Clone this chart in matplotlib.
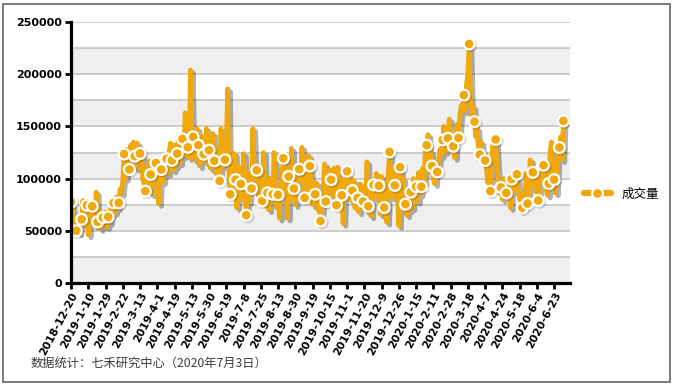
import numpy as np
import matplotlib
matplotlib.use("Agg")
import matplotlib.pyplot as plt
import matplotlib.patheffects as pe
from matplotlib.patches import Rectangle
from matplotlib.lines import Line2D

# ============================
# DATA (daily volume, trading-day index)
# ============================

volume = [
    77700, 72000, 63000, 57000, 50000, 55000, 48000, 60000,
    61000, 79000, 56000, 68000, 74500, 46000, 65000, 76000,
    73500, 62000, 55000, 87000, 58500, 70000, 52000, 60000,
    62700, 55000, 68000, 54000, 63300, 58000, 72000, 66000,
    76700, 68000, 82000, 72000, 76700, 90000, 86000, 98000,
    123500, 100000, 128000, 115000, 108700, 132000, 118000, 135000,
    121500, 110000, 134000, 118000, 124000, 128000, 100000, 95000,
    88000, 110000, 96000, 117000, 104000, 85000, 116000, 100000,
    115000, 98000, 76000, 105000, 108700, 97000, 120000, 104000,
    119000, 105000, 126000, 134000, 117500, 108000, 132000, 112000,
    124000, 137000, 115000, 126000, 138000, 122000, 163000, 140000,
    130000, 120000, 204000, 145000, 140000, 118000, 128000, 148000,
    132000, 112000, 141000, 125000, 123400, 116000, 148000, 126000,
    127200, 110000, 132000, 143000, 117000, 105000, 128000, 100000,
    97800, 148000, 112000, 125000, 118000, 128000, 186000, 105000,
    85000, 110000, 96000, 124000, 99000, 72000, 112000, 84000,
    95000, 80000, 124000, 100000, 65000, 92000, 78000, 105000,
    90500, 148000, 112000, 100000, 108000, 84000, 95000, 80000,
    78600, 125000, 98000, 74000, 86300, 70000, 100000, 78000,
    85000, 125000, 95000, 72000, 84500, 62000, 94000, 105000,
    119500, 96000, 110000, 62000, 102000, 80000, 129000, 98000,
    90500, 75000, 110000, 96000, 109000, 100000, 130000, 95000,
    81500, 98000, 88000, 122000, 112000, 92000, 75000, 90000,
    85000, 96000, 70000, 80000, 59400, 72000, 85000, 114000,
    78000, 95000, 82000, 108000, 99000, 85000, 110000, 90000,
    74500, 111000, 86000, 100000, 84000, 57000, 92000, 98000,
    107000, 95000, 80000, 100000, 88500, 98000, 72000, 90000,
    81500, 68000, 95000, 76000, 78000, 92000, 70000, 116000,
    73500, 88000, 64000, 96000, 94000, 82000, 105000, 90000,
    93200, 66000, 102000, 85000, 72300, 90000, 58000, 104000,
    125600, 96000, 82000, 110000, 93500, 104000, 82000, 55000,
    111000, 90000, 100000, 84000, 75500, 65000, 88000, 70000,
    87000, 72000, 100000, 82000, 92300, 78000, 106000, 85000,
    92300, 110000, 96000, 128000, 132000, 142000, 118000, 126000,
    112000, 100000, 95000, 115000, 106400, 118000, 128000, 122000,
    137000, 150000, 126000, 145000, 138700, 157000, 128000, 140000,
    131000, 120000, 145000, 152000, 139000, 160000, 170000, 165000,
    180000, 165000, 190000, 200000, 229000, 175000, 160000, 169000,
    154500, 140000, 148000, 130000, 123000, 135000, 118000, 125000,
    117300, 110000, 96000, 105000, 88000, 112000, 138000, 120000,
    137500, 110000, 98000, 86000, 91500, 80000, 100000, 88000,
    86300, 96000, 102000, 72000, 99500, 88000, 106000, 95000,
    104200, 90000, 80000, 76000, 72000, 85000, 80000, 105000,
    76100, 90000, 118000, 100000, 106000, 95000, 88000, 100000,
    79000, 92000, 102000, 116000, 112800, 100000, 90000, 84000,
    95300, 125000, 135000, 110000, 99000, 86000, 108000, 130000,
    129800, 140000, 118000, 155300,
]

tick_labels = [
    "2018-12-20", "2019-1-10", "2019-1-29", "2019-2-22", "2019-3-13",
    "2019-4-1", "2019-4-19", "2019-5-13", "2019-5-30", "2019-6-19",
    "2019-7-8", "2019-7-25", "2019-8-13", "2019-8-30", "2019-9-19",
    "2019-10-15", "2019-11-1", "2019-11-20", "2019-12-9", "2019-12-26",
    "2020-1-15", "2020-2-11", "2020-2-28", "2020-3-18", "2020-4-7",
    "2020-4-24", "2020-5-18", "2020-6-4", "2020-6-23",
]
tick_step = 13  # trading days between labels

series_name = "成交量"
source_note = "数据统计：七禾研究中心（2020年7月3日）"

# ============================
# FIGURE
# ============================

plt.rcParams["font.family"] = ["DejaVu Sans"]
cjk = ["Noto Sans CJK SC", "DejaVu Sans"]
orange = "#F0A80C"

fig = plt.figure(figsize=(6.73, 3.86), dpi=100)
ax = fig.add_axes([71 / 673, 1 - 283 / 386, (570 - 71) / 673, (283 - 22) / 386])

# alternating bands + grid lines
for k in range(10):
    lo, hi = k * 25000, (k + 1) * 25000
    if k % 2 == 0:
        ax.axhspan(lo, hi, color="#efefef", lw=0, zorder=0)
    ax.axhline(hi, color="#c4c4c4", lw=1.2, zorder=1)

shadow = [pe.SimpleLineShadow(offset=(2.0, -2.0), shadow_color="k", alpha=0.3), pe.Normal()]
soft = [pe.SimpleLineShadow(offset=(1.2, -1.2), shadow_color="k", alpha=0.15), pe.Normal()]

x = np.arange(len(volume))
marks = list(range(0, len(volume), 4)) + [len(volume) - 1]
ax.plot(x, volume, color=orange, lw=3.4, zorder=3, solid_joinstyle="round",
        path_effects=shadow)
ax.plot(x, volume, ls="none", marker="o", markevery=marks, markersize=7.8,
        markerfacecolor=orange, markeredgecolor="white", markeredgewidth=1.6,
        zorder=4, path_effects=soft)

ax.set_xlim(0, 376)
ax.set_ylim(0, 250000)

ax.set_yticks(np.arange(0, 250001, 50000))
ax.set_yticklabels([str(v) for v in range(0, 250001, 50000)],
                   fontsize=8, fontweight="bold")
ax.set_xticks(np.arange(len(tick_labels)) * tick_step)
ax.set_xticklabels(tick_labels, rotation=62, ha="right", va="top",
                   rotation_mode="anchor", fontsize=7.8, fontweight="bold")

for side in ["top", "right"]:
    ax.spines[side].set_visible(False)
for side in ["left", "bottom"]:
    ax.spines[side].set_linewidth(2.3)
    ax.spines[side].set_color("black")
    ax.spines[side].set_zorder(5)
ax.tick_params(axis="both", length=4.5, width=2, color="black", pad=2)
ax.tick_params(axis="x", pad=1)

handle = Line2D([], [], color=orange, lw=4.5, solid_capstyle="round",
                marker="o", markersize=7.8, markerfacecolor=orange,
                markeredgecolor="white", markeredgewidth=1.6)
ax.legend([handle], [series_name], loc="center left", bbox_to_anchor=(1.015, 0.34),
          frameon=False, borderpad=0, handlelength=2.2, handletextpad=0.8,
          prop={"family": cjk, "size": 9})

fig.text(31 / 673, 1 - 363 / 386, source_note, family=cjk, fontsize=8.8,
         color="#3a3a3a", va="center", ha="left")

fig.patches.append(Rectangle((3 / 673, 4 / 386), 667 / 673, 378 / 386,
                             transform=fig.transFigure, fill=False,
                             edgecolor="#7a7a7a", lw=1.4))

fig.savefig("out.png", dpi=100)
